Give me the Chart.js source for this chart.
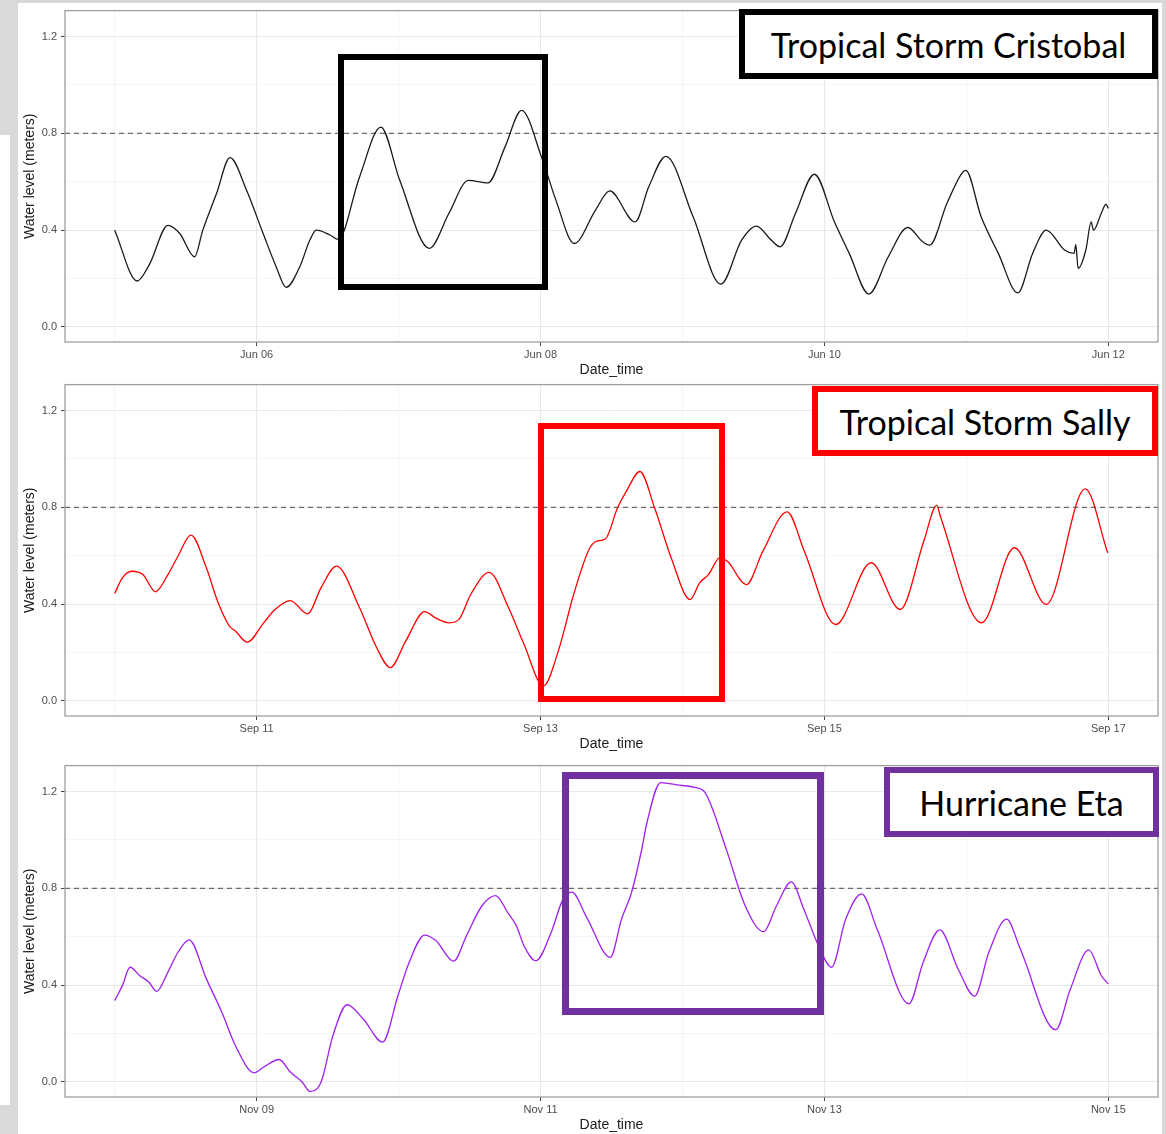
<!DOCTYPE html>
<html>
<head>
<meta charset="utf-8">
<script src="https://cdn.jsdelivr.net/npm/chart.js"></script>
<style>
  body { margin:0; background:#fff; width:1166px; height:1134px; position:relative; overflow:hidden; }
  .panel { position:absolute; left:0; }
  .gray { position:absolute; background:#d9d9d9; }
  .box { position:absolute; box-sizing:border-box; border:6px solid #000; }
  .label { display:flex; align-items:center; justify-content:center; background:#fff;
           font-family:Lato, "Open Sans", sans-serif; font-size:34px; color:#000; white-space:nowrap; }
</style>
</head>
<body>

<div class="panel" style="top:0px"><canvas id="cristobal" width="1166" height="380"></canvas></div>
<div class="panel" style="top:374px"><canvas id="sally" width="1166" height="380"></canvas></div>
<div class="panel" style="top:755px"><canvas id="eta" width="1166" height="380"></canvas></div>

<!-- screenshot edges -->
<div class="gray" style="left:0;top:0;width:1166px;height:3px"></div>
<div class="gray" style="left:0;top:0;width:18px;height:135px"></div>
<div class="gray" style="left:10px;top:135px;width:8px;height:970px"></div>
<div class="gray" style="left:0;top:1105px;width:18px;height:29px"></div>
<div class="gray" style="left:1162px;top:0;width:4px;height:1134px"></div>

<!-- annotation boxes -->
<div class="box" style="left:338px;top:54px;width:210px;height:236px"></div>
<div class="box label" style="left:739px;top:9px;width:419px;height:70px">Tropical Storm Cristobal</div>
<div class="box" style="left:538px;top:423px;width:187px;height:279px;border-color:#ff0000"></div>
<div class="box label" style="left:812px;top:386px;width:346px;height:70px;border-color:#ff0000">Tropical Storm Sally</div>
<div class="box" style="left:562px;top:772px;width:262px;height:243px;border:7px solid #7030a0"></div>
<div class="box label" style="left:884px;top:767px;width:275px;height:70px;border-color:#7030a0">Hurricane Eta</div>

<script>
// hours since the first day of each 7-day window, water level in meters
const cristobalHours = [0, 3.8, 5.9, 9.0, 11.0, 13.5, 14.9, 17.2, 19.5, 22.3, 25.1, 27.3, 29.0, 31.3, 33.0, 34.1, 36.4, 37.8,
  41.4, 45.0, 48.2, 53.2, 56.5, 59.8, 63.1, 66.0, 68.8, 72.2, 74.6, 77.7, 81.3, 83.7, 88.0, 90.3, 93.2, 97.8,
  102.5, 106.0, 108.5, 111.0, 112.5, 115.1, 118.3, 121.7, 124.2, 127.5, 130.8, 134.1, 136.6, 137.8, 140.7,
  143.2, 143.9, 146.5, 149.4, 152.7, 155.2, 157.5, 160.6, 162.2, 162.5, 162.9, 164.2, 165.1, 165.5, 166.8, 167.6, 168.0];
const cristobalLevel = [0.40, 0.19, 0.26, 0.42, 0.386, 0.29, 0.40, 0.55, 0.70, 0.565, 0.386, 0.249, 0.164, 0.249, 0.359, 0.40, 0.38, 0.362,
  0.62, 0.826, 0.606, 0.325, 0.469, 0.606, 0.595, 0.744, 0.895, 0.70, 0.524, 0.345, 0.483, 0.562, 0.434, 0.579, 0.705, 0.455,
  0.177, 0.359, 0.417, 0.359, 0.331, 0.469, 0.631, 0.434, 0.304, 0.136, 0.29, 0.411, 0.352, 0.338, 0.51,
  0.634, 0.647, 0.455, 0.304, 0.141, 0.304, 0.40, 0.318, 0.304, 0.34, 0.242, 0.318, 0.434, 0.40, 0.469, 0.507, 0.49];

const sallyHours = [0, 1.3, 2.9, 4.8, 6.9, 9.0, 10.7, 12.9, 15.5, 17.4, 19.4, 20.4, 22.4, 25.2, 27.1, 29.7, 32.6, 34.9,
  37.5, 41.4, 44.3, 46.6, 49.2, 52.4, 54.4, 56.6, 58.2, 60.2, 63.3, 66.6, 69.2, 72.5, 75.0, 77.6, 80.2, 81.5,
  83.0, 85.0, 86.5, 88.8, 91.3, 94.1, 97.3, 98.9, 100.4, 102.3, 103.6, 106.8, 109.6, 113.7, 116.6, 121.9,
  127.9, 132.8, 136.8, 139.0, 139.6, 146.6, 152.1, 157.5, 164.1, 167.9];
const sallyLevel = [0.444, 0.509, 0.536, 0.522, 0.451, 0.522, 0.598, 0.685, 0.55, 0.412, 0.309, 0.289, 0.243, 0.323, 0.378, 0.415, 0.36, 0.468,
  0.557, 0.385, 0.22, 0.138, 0.247, 0.369, 0.341, 0.323, 0.337, 0.44, 0.531, 0.385, 0.234, 0.062, 0.206, 0.44, 0.626, 0.66,
  0.67, 0.797, 0.866, 0.948, 0.797, 0.591, 0.419, 0.488, 0.522, 0.591, 0.577, 0.481, 0.619, 0.781, 0.619, 0.316,
  0.571, 0.378, 0.66, 0.808, 0.763, 0.323, 0.633, 0.399, 0.876, 0.612];

const etaHours = [0, 1.3, 2.6, 4.2, 5.8, 7.1, 9.0, 10.7, 12.6, 15.5, 18.1, 20.4, 23.6, 25.2, 27.8, 29.7, 31.7, 33.0,
  34.9, 36.9, 39.3, 42.0, 45.3, 47.9, 49.8, 52.4, 54.3, 57.3, 59.5, 62.1, 64.4, 66.6, 67.9, 69.2, 71.2, 73.8,
  75.7, 77.3, 79.8, 83.8, 85.7, 87.4, 89.0, 90.0, 92.3, 95.5, 98.1, 99.8, 103.4, 106.6, 109.7, 111.9, 114.4,
  116.5, 119.1, 121.2, 123.6, 126.3, 128.9, 134.3, 136.7, 139.5, 142.6, 145.4, 147.8, 150.8, 153.1, 159.1,
  161.6, 164.7, 166.8, 168.0];
const etaLevel = [0.336, 0.398, 0.474, 0.44, 0.412, 0.374, 0.454, 0.536, 0.587, 0.426, 0.289, 0.151, 0.038, 0.062, 0.093, 0.041, 0.0, -0.039,
  0.0, 0.192, 0.319, 0.261, 0.165, 0.357, 0.495, 0.607, 0.584, 0.499, 0.605, 0.728, 0.77, 0.694, 0.646, 0.563, 0.501, 0.618,
  0.749, 0.784, 0.68, 0.515, 0.673, 0.784, 0.948, 1.072, 1.237, 1.226, 1.217, 1.196, 0.962, 0.728, 0.621, 0.728, 0.827,
  0.715, 0.557, 0.474, 0.673, 0.777, 0.632, 0.323, 0.495, 0.628, 0.467, 0.355, 0.536, 0.673, 0.55, 0.216,
  0.385, 0.546, 0.44, 0.405];

const cristobalDays = ['Jun 06', 'Jun 08', 'Jun 10', 'Jun 12'];
const sallyDays = ['Sep 11', 'Sep 13', 'Sep 15', 'Sep 17'];
const etaDays = ['Nov 09', 'Nov 11', 'Nov 13', 'Nov 15'];

const xTicks = [0, 24, 48, 72, 96, 120, 144, 168];   // every 24 h, labels on odd days
const yTicks = [0, 0.2, 0.4, 0.6, 0.8, 1.0, 1.2];
const threshold = 0.8;

const isMajorX = v => (v - 24) % 48 === 0;
const isMajorY = v => Math.round(v * 10) % 4 === 0;

const frame = {
  id: 'frame',
  afterDraw(chart) {
    const a = chart.chartArea, ctx = chart.ctx;
    ctx.save();
    ctx.strokeStyle = '#9e9e9e';
    ctx.lineWidth = 1.3;
    ctx.strokeRect(a.left, a.top, a.right - a.left, a.bottom - a.top);
    ctx.restore();
  }
};

function drawPanel(id, hours, level, color, days) {
  const xMin = -8.4, xMax = 176.4;
  new Chart(document.getElementById(id), {
    type: 'line',
    data: {
      datasets: [
        { data: hours.map((h, i) => ({ x: h, y: level[i] })), borderColor: color, borderWidth: 1.3,
          pointRadius: 0, cubicInterpolationMode: 'monotone', order: 0 },
        { data: [{ x: xMin, y: threshold }, { x: xMax, y: threshold }], borderColor: '#6b6b6b', borderWidth: 1.1,
          borderDash: [5, 4], pointRadius: 0, order: 1 }
      ]
    },
    options: {
      responsive: false,
      animation: false,
      events: [],
      layout: { padding: { top: 10, right: 8, left: 0, bottom: 0 } },
      plugins: { legend: { display: false }, tooltip: { enabled: false } },
      scales: {
        x: {
          type: 'linear', min: xMin, max: xMax,
          afterBuildTicks: s => { s.ticks = xTicks.map(v => ({ value: v })); },
          afterFit: s => { s.height = 38; },
          border: { display: false },
          grid: {
            color: c => (c.tick && isMajorX(c.tick.value)) ? '#e8e8e8' : '#f3f3f3',
            lineWidth: c => (c.tick && isMajorX(c.tick.value)) ? 1 : 0.8,
            tickColor: c => (c.tick && isMajorX(c.tick.value)) ? '#444' : 'rgba(0,0,0,0)',
            tickLength: 4
          },
          ticks: {
            autoSkip: false, maxRotation: 0, padding: 2,
            color: '#4d4d4d', font: { family: 'Liberation Sans', size: 11 },
            callback: v => isMajorX(v) ? days[(v - 24) / 48] : ''
          },
          title: { display: true, text: 'Date_time', color: '#1a1a1a',
                   font: { family: 'Liberation Sans', size: 14 }, padding: { top: 0, bottom: 1.6 } }
        },
        y: {
          min: -0.062, max: 1.307,
          afterBuildTicks: s => { s.ticks = yTicks.map(v => ({ value: v })); },
          afterFit: s => { s.width = 65; },
          border: { display: false },
          grid: {
            color: c => (c.tick && isMajorY(c.tick.value)) ? '#e8e8e8' : '#f3f3f3',
            lineWidth: c => (c.tick && isMajorY(c.tick.value)) ? 1 : 0.8,
            tickColor: c => (c.tick && isMajorY(c.tick.value)) ? '#444' : 'rgba(0,0,0,0)',
            tickLength: 4
          },
          ticks: {
            padding: 4, color: '#4d4d4d', font: { family: 'Liberation Sans', size: 11 },
            callback: v => isMajorY(v) ? v.toFixed(1) : ''
          },
          title: { display: true, text: 'Water level (meters)', color: '#1a1a1a',
                   font: { family: 'Liberation Sans', size: 14 }, padding: { top: 21.6, bottom: 0 } }
        }
      }
    },
    plugins: [frame]
  });
}

drawPanel('cristobal', cristobalHours, cristobalLevel, '#1a1a1a', cristobalDays);
drawPanel('sally', sallyHours, sallyLevel, '#ff0000', sallyDays);
drawPanel('eta', etaHours, etaLevel, '#a020f0', etaDays);
</script>
</body>
</html>
